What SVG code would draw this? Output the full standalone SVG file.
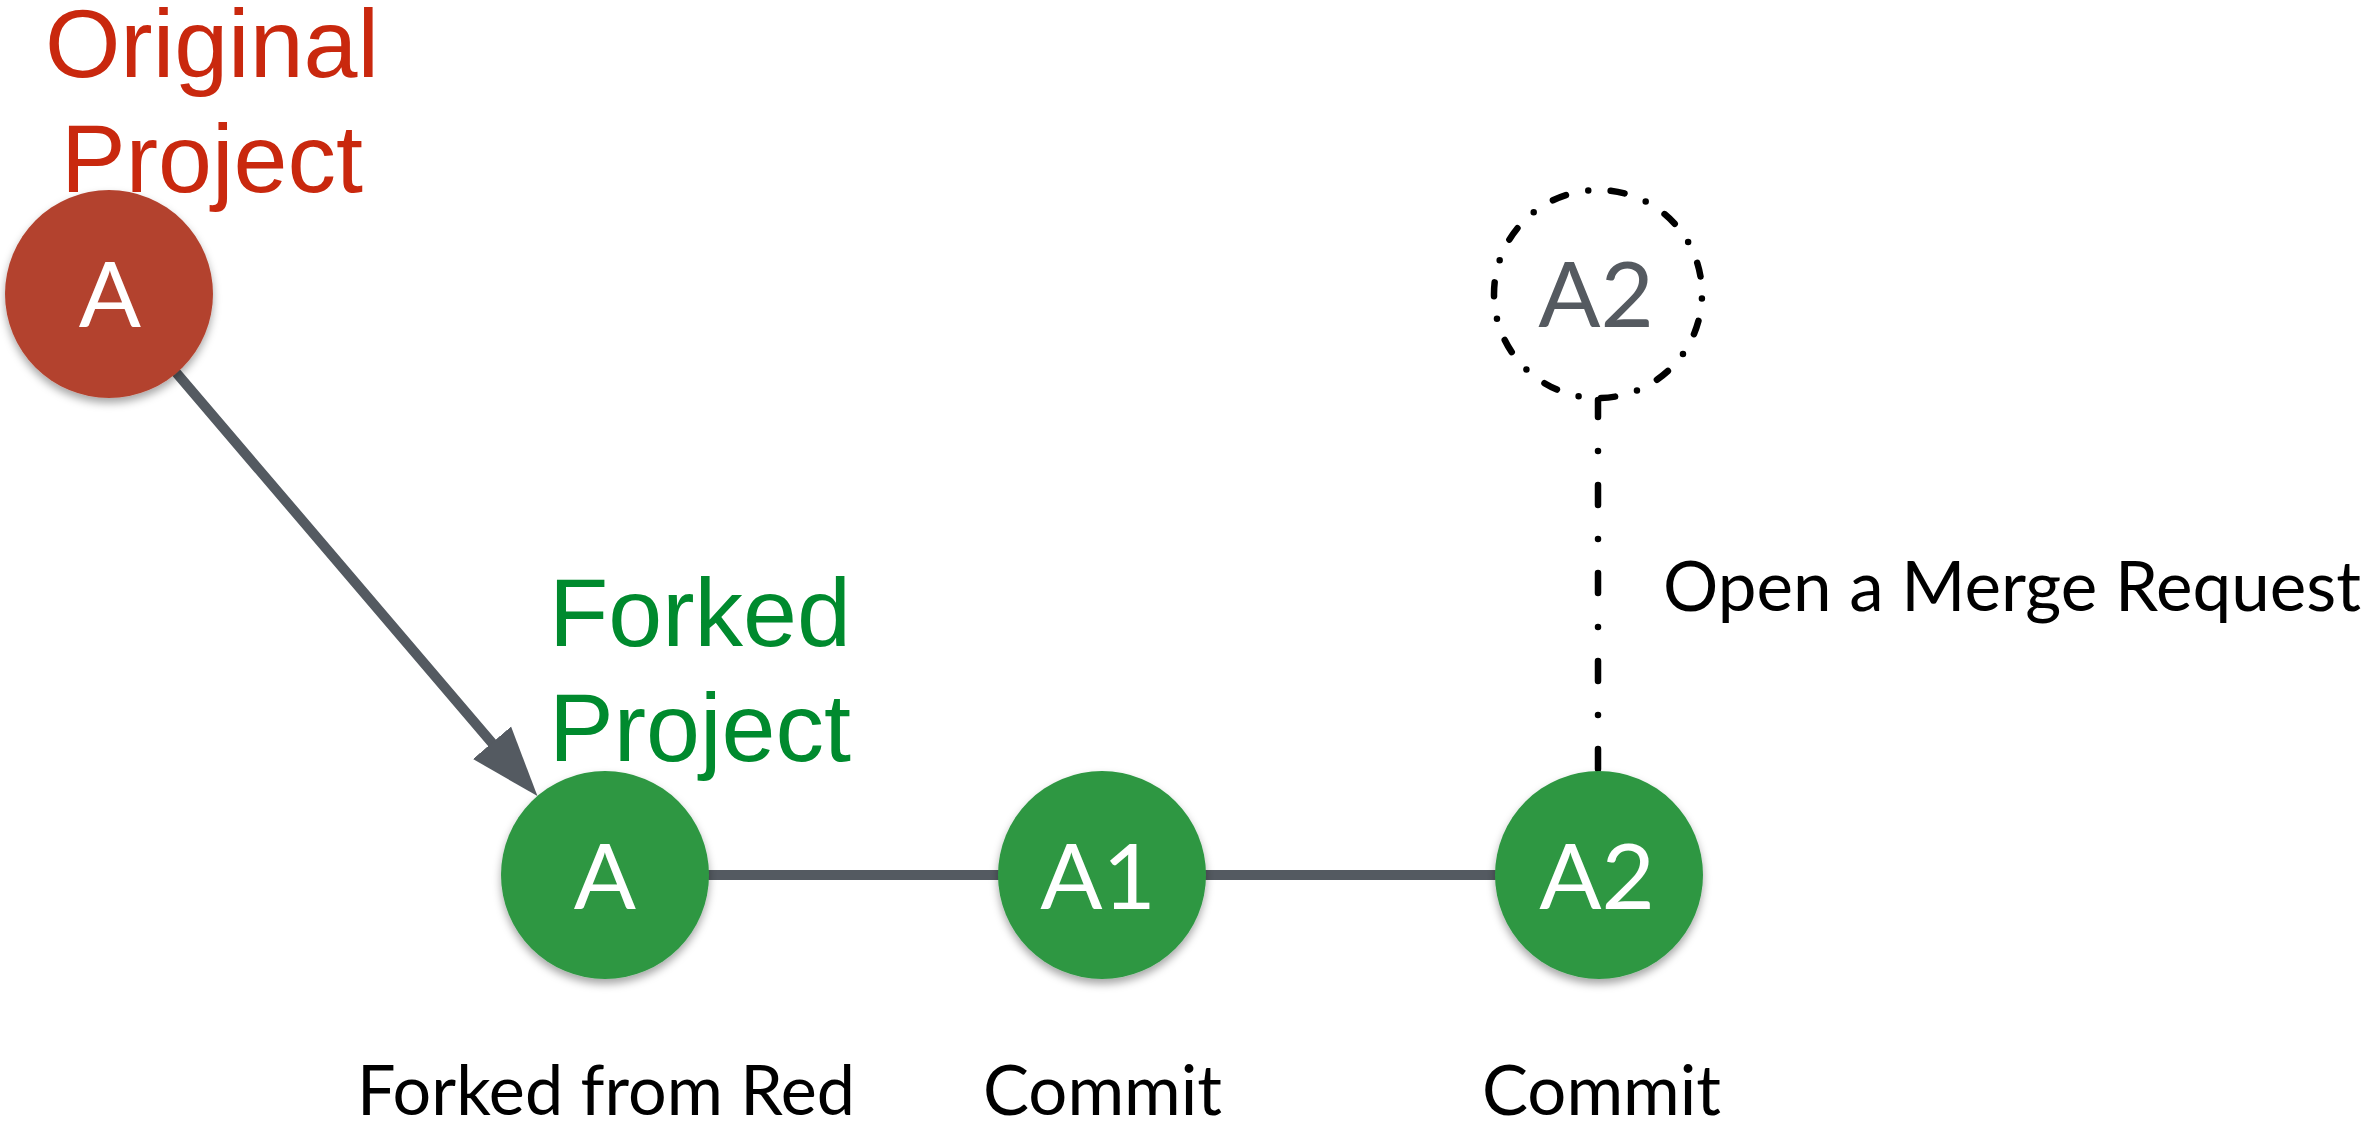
<svg xmlns="http://www.w3.org/2000/svg" width="2369" height="1123" viewBox="0 0 2369 1123">
  <style>
    .node-red { fill: #B3432F; }
    .node-green { fill: #2E9743; }
    .node-text { font-family: Lato, "Open Sans", sans-serif; font-weight: 400; font-size: 92px; fill: #ffffff; text-anchor: middle; }
    .ghost-text { fill: #555A60; }
    .title { font-family: "Liberation Sans", Arial, sans-serif; font-size: 97px; text-anchor: middle; }
    .title-red { fill: #C9280E; }
    .title-green { fill: #008A2E; }
    .label { font-family: Lato, "Open Sans", sans-serif; font-size: 69px; fill: #000000; }
    .edge { stroke: #545A61; stroke-width: 10; stroke-linecap: round; fill: none; }
    .dashdot { stroke: #000000; stroke-width: 6.5; stroke-linecap: round; fill: none; }
  </style>
  <defs>
    <filter id="shadow" x="-20%" y="-20%" width="140%" height="150%">
      <feDropShadow dx="0" dy="5" stdDeviation="4" flood-color="#000000" flood-opacity="0.35"/>
    </filter>
    <marker id="arrowhead" markerUnits="userSpaceOnUse" markerWidth="72" markerHeight="52" refX="10" refY="26" orient="auto">
      <path d="M0,1 L70,26 L0,51 Z" fill="#545A61"/>
    </marker>
  </defs>

  <rect x="0" y="0" width="2369" height="1123" fill="#ffffff"/>

  <!-- titles -->
  <g id="title-original">
    <text class="title title-red" x="212" y="77">Original</text>
    <text class="title title-red" x="212" y="192">Project</text>
  </g>
  <g id="title-forked">
    <text class="title title-green" x="700" y="646">Forked</text>
    <text class="title title-green" x="700" y="761">Project</text>
  </g>

  <!-- connectors -->
  <g id="connectors">
    <line class="edge" x1="176.5" y1="373" x2="498.5" y2="750.4" marker-end="url(#arrowhead)"/>
    <line class="edge" x1="709" y1="875" x2="998" y2="875"/>
    <line class="edge" x1="1206" y1="875" x2="1495" y2="875"/>
    <line class="dashdot" x1="1598" y1="400" x2="1598" y2="773" stroke-dasharray="20 34 0 34" stroke-dashoffset="3"/>
  </g>

  <!-- nodes -->
  <g id="node-original-A">
    <circle class="node-red" cx="109" cy="294" r="104" filter="url(#shadow)"/>
    <text class="node-text" x="110" y="327">A</text>
  </g>
  <g id="node-forked-A">
    <circle class="node-green" cx="605" cy="875" r="104" filter="url(#shadow)"/>
    <text class="node-text" x="605" y="909">A</text>
  </g>
  <g id="node-A1">
    <circle class="node-green" cx="1102" cy="875" r="104" filter="url(#shadow)"/>
    <text class="node-text" x="1098" y="909">A1</text>
  </g>
  <g id="node-A2">
    <circle class="node-green" cx="1599" cy="875" r="104" filter="url(#shadow)"/>
    <text class="node-text" x="1597" y="909">A2</text>
  </g>
  <g id="node-A2-proposed">
    <circle class="dashdot" cx="1598" cy="294" r="104" stroke-width="6" stroke-dasharray="14 22.7 0 22.7" stroke-dashoffset="32.2"/>
    <text class="node-text ghost-text" x="1596" y="327">A2</text>
  </g>

  <!-- labels -->
  <g id="labels">
    <text class="label" x="1663" y="611" textLength="698" lengthAdjust="spacingAndGlyphs">Open a Merge Request</text>
    <text class="label" x="357" y="1115" textLength="498" lengthAdjust="spacingAndGlyphs">Forked from Red</text>
    <text class="label" x="983" y="1115" textLength="239" lengthAdjust="spacingAndGlyphs">Commit</text>
    <text class="label" x="1482" y="1115" textLength="239" lengthAdjust="spacingAndGlyphs">Commit</text>
  </g>
</svg>
